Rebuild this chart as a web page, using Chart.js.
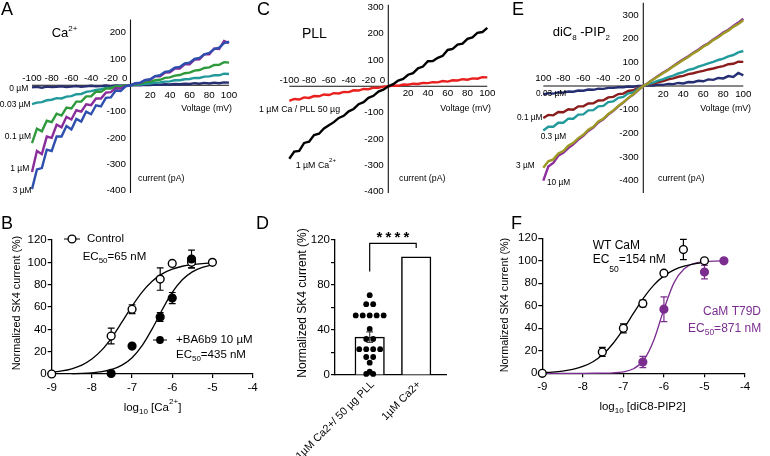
<!DOCTYPE html>
<html>
<head>
<meta charset="utf-8">
<script src="https://cdn.jsdelivr.net/npm/chart.js@4.4.1/dist/chart.umd.min.js"></script>
<style>
html, body { margin: 0; padding: 0; background: #fff; }
#fig { position: relative; width: 770px; height: 456px; overflow: hidden; }
canvas { position: absolute; }
</style>
</head>
<body>
<div id="fig">
  <canvas id="cA" width="255" height="215" style="left:0;top:0"></canvas>
  <canvas id="cC" width="255" height="215" style="left:255px;top:0"></canvas>
  <canvas id="cE" width="260" height="215" style="left:510px;top:0"></canvas>
  <canvas id="cB" width="258" height="241" style="left:0;top:215px"></canvas>
  <canvas id="cD" width="240" height="241" style="left:255px;top:215px"></canvas>
  <canvas id="cF" width="275" height="241" style="left:495px;top:215px"></canvas>
</div>
<script>
'use strict';

// ---- data ----
const voltage = [-100,-95,-90,-85,-80,-75,-70,-65,-60,-55,-50,-45,-40,-35,-30,-25,-20,-15,-10,-5,0,5,10,15,20,25,30,35,40,45,50,55,60,65,70,75,80,85,90,95,100];

// A: Ca2+ series (pA)
const caA0   = [-8,-6,-9,-5,-7,-6,-4,-7,-5,-3,-6,-4,-2,-4,-3,-1,-3,-1,-2,0,0,1,0,2,1,3,2,4,3,5,4,6,5,8,6,9,7,10,8,11,10];
const caA003 = [-72,-66,-64,-57,-55,-49,-50,-43,-41,-34,-33,-25,-22,-18,-15,-10,-9,-5,-4,-1,0,2,3,6,7,10,11,14,15,19,19,23,24,28,28,33,34,38,38,44,43];
const caA01  = [-220,-165,-175,-135,-140,-108,-115,-85,-88,-62,-62,-42,-42,-24,-25,-12,-12,-4,-4,0,0,4,6,12,13,19,21,28,30,37,39,46,48,56,58,66,68,77,78,88,86];
const caA1   = [-330,-250,-262,-195,-200,-150,-160,-120,-130,-95,-100,-72,-76,-50,-50,-28,-26,-11,-12,-2,0,7,9,20,21,34,34,48,49,64,64,80,80,98,99,118,118,140,138,168,160];
const caA3   = [-395,-320,-315,-245,-250,-195,-195,-155,-168,-128,-138,-100,-110,-76,-80,-48,-46,-20,-22,-4,0,8,10,20,23,35,38,51,54,67,70,83,86,100,104,118,123,138,143,160,166];

// C: PLL
const pllCa  = [-275,-248,-245,-215,-210,-185,-180,-160,-148,-136,-120,-112,-95,-86,-68,-60,-44,-36,-20,-13,0,8,22,28,44,50,68,75,95,96,108,116,138,142,158,162,180,186,203,206,222];
const pllPll = [-55,-48,-50,-42,-44,-37,-38,-31,-33,-26,-27,-21,-22,-15,-16,-10,-11,-5,-6,-1,0,3,2,7,6,10,9,13,12,16,15,20,18,23,22,27,25,30,29,35,34];

// E: diC8-PIP2
const pipE003 = [-35,-30,-32,-27,-28,-23,-24,-19,-20,-15,-16,-11,-12,-8,-8,-5,-5,-2,-3,0,0,3,2,6,5,9,8,13,11,17,16,22,20,28,26,34,32,42,38,55,45];
const pipE01  = [-135,-122,-124,-110,-111,-98,-100,-86,-86,-74,-73,-61,-60,-48,-46,-34,-32,-21,-18,-7,0,6,10,17,21,28,32,39,43,50,54,60,64,70,74,80,84,92,94,103,102];
const pipE03  = [-188,-172,-172,-155,-155,-138,-138,-121,-120,-103,-102,-86,-84,-68,-65,-50,-46,-31,-27,-11,0,8,14,23,29,38,44,53,59,68,73,82,88,96,102,110,116,125,131,142,148];
const pipE3   = [-345,-318,-310,-285,-275,-252,-240,-220,-206,-185,-172,-150,-138,-118,-103,-84,-69,-50,-35,-16,0,13,28,41,55,68,83,96,110,123,138,150,166,178,194,206,222,234,250,262,278];
const pipE10  = [-400,-340,-325,-295,-282,-262,-246,-226,-210,-190,-176,-154,-141,-121,-105,-86,-70,-51,-36,-17,0,14,29,43,57,70,85,99,113,126,141,153,169,181,197,210,226,238,254,268,284];

const ivYTicksA = [200,100,-100,-200,-300,-400];
const ivYTicksCE = [300,200,100,-100,-200,-300,-400];
const xTicksNeg = [-100,-80,-60,-40,-20];
const xTicksPos = [20,40,60,80,100];
const negLabels = ['-100','-80','-60','-40','-20'];
const negLabelsE = ['100','-80','-60','-40','-20'];

// B: Ca2+ dose response
const caX = [-9,-7.52,-7,-6.3,-6,-5.52,-5];
const ctrlY = [0,34,58,85,99,100,100];
const ctrlErr = [0,7,4,10,1,5,0];
const baX = [-7.52,-7,-6.3,-6,-5.52];
const baY = [0.5,25,51,68,103];
const baErr = [0,0,4,5,8];
const fitX = [-9,-8.75,-8.5,-8.25,-8,-7.75,-7.5,-7.25,-7,-6.75,-6.5,-6.25,-6,-5.75,-5.5,-5.25,-5];
const ctrlFit = [1.5,2.7,4.7,8.0,13.4,21.6,32.9,46.6,60.8,73.4,83.1,89.7,93.9,96.5,98.0,98.9,99.4];
const baFitX = [-8.5,-8.25,-8,-7.75,-7.5,-7.25,-7,-6.75,-6.5,-6.25,-6,-5.75,-5.5,-5.25,-5];
const baFit = [0.27,0.53,1.06,2.1,4.1,7.9,14.6,25.4,40.4,57.5,73.0,84.4,91.5,95.5,97.7];

// D: PLL bars
const dCategories = ['1µM Ca2+/ 50 µg PLL', '1µM Ca2+'];
const dMeans = [33.7, 105];
const dSem = [4.7, 0];
const pllCells = [71,63,63,53,53,53,53,53,41,32,32,23,23,23,23,16,16,11,1,3,1];

// F: diC8-PIP2 dose response
const wtX = [-9,-7.52,-7,-6.52,-6,-5.52,-5];
const wtY = [0,19,40,62,89,110,100];
const wtErr = [0,4,4,3,2,9,0];
const t79X = [-6.52,-6,-5,-4.52];
const t79Y = [10,57,90,100];
const t79Err = [5,11,6,0];
const wtFit = [0.6,1.1,2.0,3.5,6.1,10.3,16.9,26.7,39.2,53.4,67.1,78.4,86.6,92.0,95.3,97.3,98.5];
const t79FitX = [-9,-8.75,-8.5,-8.25,-8,-7.75,-7.5,-7.25,-7,-6.75,-6.5,-6.25,-6,-5.75,-5.5,-5.25,-5,-4.75,-4.5];
const t79Fit = [0,0,0,0,0.01,0.04,0.13,0.41,1.3,4.0,11.6,29.4,56.9,80.6,93.0,97.7,99.2,99.8,99.9];

// ---- helpers ----
const FONT = '"Liberation Sans", Arial, Helvetica, sans-serif';
const PURPLE = '#7b2d8f';
Chart.defaults.font.family = FONT;
Chart.defaults.color = '#000';

// parts: [text, size, dy]
function rich(ctx, x, y, parts, align, color) {
  let w = 0;
  parts.forEach(p => { ctx.font = p[1] + 'px ' + FONT; w += ctx.measureText(p[0]).width; });
  let cx = align === 'right' ? x - w : align === 'center' ? x - w / 2 : x;
  ctx.fillStyle = color || '#000';
  ctx.textBaseline = 'middle';
  ctx.textAlign = 'left';
  parts.forEach(p => {
    ctx.font = p[1] + 'px ' + FONT;
    ctx.fillText(p[0], cx, y + (p[2] || 0));
    cx += ctx.measureText(p[0]).width;
  });
}

function drawNotes(ctx, notes) {
  notes.forEach(n => {
    ctx.save();
    if (n.rot) {
      ctx.translate(n.x, n.y);
      ctx.rotate(n.rot);
      rich(ctx, 0, 0, n.parts, n.align, n.color);
    } else {
      rich(ctx, n.x, n.y, n.parts, n.align, n.color);
    }
    ctx.restore();
  });
}

function ivDecor(p) {
  return {
    id: 'ivDecor',
    beforeDatasetsDraw(chart) {
      const ctx = chart.ctx, xs = chart.scales.x, ys = chart.scales.y;
      const x0 = xs.getPixelForValue(0), y0 = ys.getPixelForValue(0);
      ctx.save();
      ctx.strokeStyle = '#111';
      ctx.lineWidth = 1.1;
      ctx.beginPath();
      ctx.moveTo(x0, ys.getPixelForValue(p.yMax));
      ctx.lineTo(x0, ys.getPixelForValue(p.yMin));
      ctx.moveTo(xs.getPixelForValue(-100), y0);
      ctx.lineTo(xs.getPixelForValue(100), y0);
      ctx.stroke();
      p.yTicks.forEach(v => rich(ctx, x0 - 4.5, ys.getPixelForValue(v), [[String(v), 9.8]], 'right'));
      xTicksNeg.forEach((v, i) => rich(ctx, xs.getPixelForValue(v), y0 - p.negDy, [[p.negLabels[i], 9.8]], 'center'));
      rich(ctx, x0 - 3, y0 - p.negDy, [['0', 9.8]], 'right');
      xTicksPos.forEach(v => rich(ctx, xs.getPixelForValue(v), y0 + p.posDy, [[String(v), 9.8]], 'center'));
      ctx.restore();
    },
    afterDraw(chart) { drawNotes(chart.ctx, p.notes); }
  };
}

function ivChart(id, p) {
  return new Chart(document.getElementById(id), {
    type: 'line',
    data: {
      datasets: p.traces.map((t, i) => ({
        data: voltage.map((v, k) => ({ x: v, y: t.values[k] })),
        borderColor: t.color,
        borderWidth: 2.4,
        borderJoinStyle: 'miter',
        pointRadius: 0,
        tension: 0,
        clip: false,
        order: p.traces.length - i
      }))
    },
    options: {
      responsive: false, animation: false, events: [],
      layout: { padding: p.pad },
      plugins: { legend: { display: false }, tooltip: { enabled: false } },
      scales: {
        x: { type: 'linear', display: false, min: -100, max: 100 },
        y: { type: 'linear', display: false, min: p.yMin, max: p.yMax }
      }
    },
    plugins: [ivDecor(p)]
  });
}

function errorBars(onTop) {
  const draw = chart => {
    const ctx = chart.ctx, xs = chart.scales.x, ys = chart.scales.y;
    ctx.save();
    chart.data.datasets.forEach(ds => {
      if (!ds.err) return;
      ctx.strokeStyle = ds.errColor || '#000';
      ctx.lineWidth = 1.2;
      ds.data.forEach((pt, i) => {
        const e = ds.err[i];
        if (!e) return;
        const x = xs.getPixelForValue(pt.x);
        const yt = ys.getPixelForValue(pt.y + e), yb = ys.getPixelForValue(pt.y - e);
        ctx.beginPath();
        ctx.moveTo(x, yt); ctx.lineTo(x, yb);
        ctx.moveTo(x - 3.4, yt); ctx.lineTo(x + 3.4, yt);
        ctx.moveTo(x - 3.4, yb); ctx.lineTo(x + 3.4, yb);
        ctx.stroke();
      });
    });
    ctx.restore();
  };
  return onTop ? { id: 'errTop', afterDatasetsDraw: draw } : { id: 'errUnder', beforeDatasetsDraw: draw };
}

function axisOpts(o) {
  return Object.assign({
    type: 'linear',
    grid: { drawOnChartArea: false, tickLength: 4, color: '#000', lineWidth: 1.2 },
    border: { display: true, color: '#000', width: 1.3 },
    ticks: { font: { size: 11.5 }, color: '#000', padding: 1 }
  }, o);
}

function doseChart(id, p) {
  const datasets = [];
  p.curves.forEach(c => datasets.push({
    type: 'scatter', showLine: true,
    data: c.x.map((x, i) => ({ x, y: c.y[i] })),
    borderColor: c.color, borderWidth: 1.3, pointRadius: 0,
    cubicInterpolationMode: 'monotone', clip: false, order: 5
  }));
  p.series.forEach(s => datasets.push({
    type: 'scatter',
    data: s.x.map((x, i) => ({ x, y: s.y[i] })),
    err: s.err, errColor: s.stroke,
    pointRadius: 3.9, pointBorderWidth: 1.4,
    pointBackgroundColor: s.fill, pointBorderColor: s.stroke,
    clip: false, order: s.order
  }));
  return new Chart(document.getElementById(id), {
    type: 'scatter',
    data: { datasets },
    options: {
      responsive: false, animation: false, events: [],
      layout: { padding: p.pad },
      plugins: { legend: { display: false }, tooltip: { enabled: false } },
      scales: {
        x: axisOpts({
          min: -9, max: -4,
          ticks: { stepSize: 1, font: { size: 11.5 }, color: '#000', padding: 3 },
          afterFit(s) { s.height = p.xH; s.paddingLeft = 0; s.paddingRight = 0; }
        }),
        y: axisOpts({
          min: 0, max: 120,
          ticks: { stepSize: 20, font: { size: 11.5 }, color: '#000', padding: 1 },
          afterFit(s) { s.width = p.yW; s.paddingTop = 0; s.paddingBottom = 0; }
        })
      }
    },
    plugins: [errorBars(false), { id: 'notes', afterDraw(chart) { p.extra && p.extra(chart); drawNotes(chart.ctx, p.notes); } }]
  });
}

// ---- A ----
ivChart('cA', {
  pad: { left: 32, right: 26, top: 19.55, bottom: 21.9 },
  yMin: -410, yMax: 250, yTicks: ivYTicksA, negLabels: negLabels, negDy: 7, posDy: 10.5,
  traces: [
    { values: caA0, color: '#262f72' },
    { values: caA003, color: '#22999a' },
    { values: caA01, color: '#2e9a3c' },
    { values: caA1, color: '#8a2c9a' },
    { values: caA3, color: '#2d4fae' }
  ],
  notes: [
    { parts: [['A', 18]], x: 1, y: 10 },
    { parts: [['Ca', 13], ['2+', 8, -4.5]], x: 51.7, y: 33 },
    { parts: [['0 µM', 8.5]], x: 28.3, y: 88.8, align: 'right' },
    { parts: [['0.03 µM', 8.5]], x: 30.7, y: 104.3, align: 'right' },
    { parts: [['0.1 µM', 8.5]], x: 31, y: 137, align: 'right' },
    { parts: [['1 µM', 8.5]], x: 29.3, y: 169, align: 'right' },
    { parts: [['3 µM', 8.5]], x: 31.7, y: 191, align: 'right' },
    { parts: [['Voltage (mV)', 8.8]], x: 232, y: 108.3, align: 'right' },
    { parts: [['current (pA)', 8.8]], x: 138, y: 178.3 }
  ]
});

// ---- C ----
ivChart('cC', {
  pad: { left: 34.3, right: 22.7, top: 4.65, bottom: 22 },
  yMin: -405, yMax: 310, yTicks: ivYTicksCE, negLabels: negLabels, negDy: 6, posDy: 7.3,
  traces: [
    { values: pllPll, color: '#e8201e' },
    { values: pllCa, color: '#000000' }
  ],
  notes: [
    { parts: [['C', 18]], x: 2, y: 10 },
    { parts: [['PLL', 14]], x: 47, y: 33.7 },
    { parts: [['1 µM Ca / PLL 50 µg', 8.8]], x: 4, y: 109.3 },
    { parts: [['1 µM Ca', 8.8], ['2+', 6, -5]], x: 40.7, y: 165.5 },
    { parts: [['Voltage (mV)', 8.8]], x: 236, y: 108.3, align: 'right' },
    { parts: [['current (pA)', 8.8]], x: 144, y: 178.3 }
  ]
});

// ---- E ----
ivChart('cE', {
  pad: { left: 33.3, right: 26.7, top: 2.7, bottom: 22 },
  yMin: -452, yMax: 352, yTicks: ivYTicksCE, negLabels: negLabelsE, negDy: 7.7, posDy: 8.5,
  traces: [
    { values: pipE003, color: '#262f72' },
    { values: pipE01, color: '#8b1c1c' },
    { values: pipE03, color: '#22999a' },
    { values: pipE10, color: '#8e2f9e' },
    { values: pipE3, color: '#9c9a23' }
  ],
  notes: [
    { parts: [['E', 18]], x: 2, y: 10 },
    { parts: [['diC', 13], ['8', 8, 4.7], [' -PIP', 13], ['2', 8, 4.7]], x: 42.7, y: 32.8 },
    { parts: [['0.03 µM', 8.3]], x: 26, y: 93.8 },
    { parts: [['0.1 µM', 8.3]], x: 7, y: 117.8 },
    { parts: [['0.3 µM', 8.3]], x: 30.7, y: 137 },
    { parts: [['3 µM', 8.3]], x: 6, y: 165.5 },
    { parts: [['10 µM', 8.3]], x: 37, y: 183 },
    { parts: [['Voltage (mV)', 8.8]], x: 241, y: 108.3, align: 'right' },
    { parts: [['current (pA)', 8.8]], x: 148, y: 178.3 }
  ]
});

// ---- B ----
doseChart('cB', {
  pad: { left: 0, top: 25, right: 3, bottom: 0 }, yW: 51.7, xH: 82,
  curves: [
    { x: fitX, y: ctrlFit, color: '#000' },
    { x: baFitX, y: baFit, color: '#000' }
  ],
  series: [
    { x: caX, y: ctrlY, err: ctrlErr, fill: '#fff', stroke: '#000', order: 2 },
    { x: baX, y: baY, err: baErr, fill: '#000', stroke: '#000', order: 1 }
  ],
  extra(chart) {
    const ctx = chart.ctx;
    ctx.save();
    ctx.strokeStyle = '#000'; ctx.lineWidth = 1.2;
    ctx.beginPath(); ctx.moveTo(64, 24); ctx.lineTo(80, 24); ctx.moveTo(153, 125); ctx.lineTo(167, 125); ctx.stroke();
    ctx.lineWidth = 1.4;
    ctx.beginPath(); ctx.arc(72, 24, 3.9, 0, Math.PI * 2); ctx.fillStyle = '#fff'; ctx.fill(); ctx.stroke();
    ctx.beginPath(); ctx.arc(160, 125, 3.9, 0, Math.PI * 2); ctx.fillStyle = '#000'; ctx.fill();
    ctx.restore();
  },
  notes: [
    { parts: [['B', 18]], x: 1, y: 9.5 },
    { parts: [['Normalized SK4 current (%)', 10.8]], x: 17, y: 88, align: 'center', rot: -Math.PI / 2 },
    { parts: [['Control', 11.5]], x: 87, y: 23.8 },
    { parts: [['EC', 11.5], ['50', 8, 3.6], ['=65 nM', 11.5]], x: 82.7, y: 42 },
    { parts: [['+BA6b9 10 µM', 11.5]], x: 176, y: 125 },
    { parts: [['EC', 11.5], ['50', 8, 3.6], ['=435 nM', 11.5]], x: 176, y: 139.7 },
    { parts: [['log', 11.5], ['10', 8, 4], [' [Ca', 11.5], ['2+', 8, -6], [']', 11.5]], x: 152.5, y: 192.5, align: 'center' }
  ]
});

// ---- D ----
const dotGroups = {};
pllCells.forEach(v => { const k = Math.round(v / 5); (dotGroups[k] = dotGroups[k] || []).push(v); });
const dotPoints = [];
Object.values(dotGroups).forEach(g => g.forEach((v, i) => dotPoints.push({ x: (i - (g.length - 1) / 2) * 0.15, y: v })));

new Chart(document.getElementById('cD'), {
  type: 'bar',
  data: {
    datasets: [
      {
        type: 'bar',
        data: dMeans.map((m, i) => ({ x: i, y: m })),
        err: dSem, errColor: '#444',
        backgroundColor: '#fff', borderColor: '#000', borderWidth: 1.5,
        barThickness: 29.5, order: 3
      },
      {
        type: 'scatter',
        data: dotPoints,
        pointRadius: 2.9, pointBackgroundColor: '#000', pointBorderColor: '#000', pointBorderWidth: 0,
        clip: false, order: 1
      }
    ]
  },
  options: {
    responsive: false, animation: false, events: [],
    layout: { padding: { left: 0, top: 25, right: 48.3, bottom: 0 } },
    plugins: { legend: { display: false }, tooltip: { enabled: false } },
    scales: {
      x: {
        type: 'linear', min: -0.746, max: 1.656, offset: false,
        grid: { display: false, offset: false },
        ticks: { display: false },
        border: { display: true, color: '#000', width: 1.3 },
        afterFit(s) { s.height = 81; s.paddingLeft = 0; s.paddingRight = 0; }
      },
      y: axisOpts({
        min: 0, max: 120, beginAtZero: true,
        ticks: { stepSize: 20, font: { size: 11.5 }, color: '#000', padding: 1, callback: v => (v % 40 === 0 ? v : '') },
        afterFit(s) { s.width = 80; s.paddingTop = 0; s.paddingBottom = 0; }
      })
    }
  },
  plugins: [errorBars(true), {
    id: 'dNotes',
    afterDraw(chart) {
      const ctx = chart.ctx, xs = chart.scales.x, ys = chart.scales.y;
      ctx.save();
      ctx.strokeStyle = '#000'; ctx.lineWidth = 1.2;
      ctx.beginPath();
      ctx.moveTo(xs.getPixelForValue(0), ys.getPixelForValue(92));
      ctx.lineTo(xs.getPixelForValue(0), ys.getPixelForValue(117));
      ctx.lineTo(xs.getPixelForValue(1), ys.getPixelForValue(117));
      ctx.lineTo(xs.getPixelForValue(1), ys.getPixelForValue(113));
      ctx.stroke();
      const sx = xs.getPixelForValue(0.5), sy = ys.getPixelForValue(125) + 3;
      ctx.font = 'bold 15px ' + FONT; ctx.fillStyle = '#000'; ctx.textAlign = 'center'; ctx.textBaseline = 'middle';
      [-1.5, -0.5, 0.5, 1.5].forEach(k => ctx.fillText('*', sx + k * 9, sy));
      dCategories.forEach((c, i) => {
        ctx.save();
        ctx.translate(xs.getPixelForValue(i) + 3, chart.chartArea.bottom + 8);
        ctx.rotate(-Math.PI / 4);
        rich(ctx, 0, 0, [[c, 10.8]], 'right');
        ctx.restore();
      });
      ctx.restore();
      drawNotes(ctx, [
        { parts: [['D', 18]], x: 1, y: 9.5 },
        { parts: [['Normalized SK4 current (%)', 12]], x: 48, y: 88, align: 'center', rot: -Math.PI / 2 }
      ]);
    }
  }]
});

// ---- F ----
doseChart('cF', {
  pad: { left: 0, top: 23.3, right: 25, bottom: 0 }, yW: 47.3, xH: 82.7,
  curves: [
    { x: fitX, y: wtFit, color: '#000' },
    { x: t79FitX, y: t79Fit, color: PURPLE }
  ],
  series: [
    { x: wtX, y: wtY, err: wtErr, fill: '#fff', stroke: '#000', order: 1 },
    { x: t79X, y: t79Y, err: t79Err, fill: PURPLE, stroke: PURPLE, order: 2 }
  ],
  notes: [
    { parts: [['F', 18]], x: 16, y: 9.5 },
    { parts: [['Normalized SK4 current (%)', 10.8]], x: 10, y: 90, align: 'center', rot: -Math.PI / 2 },
    { parts: [['WT CaM', 12]], x: 97.7, y: 30.8 },
    { parts: [['EC', 12], ['50', 8.5, 9.5], ['=154 nM', 12]], x: 97.7, y: 45 },
    { parts: [['CaM T79D', 12]], x: 208, y: 96.2, color: PURPLE },
    { parts: [['EC', 12], ['50', 8.5, 4], ['=871 nM', 12]], x: 193, y: 113.3, color: PURPLE },
    { parts: [['log', 11.5], ['10', 8, 4], [' [diC8-PIP2]', 11.5]], x: 147.5, y: 191.7, align: 'center' }
  ]
});
</script>
</body>
</html>
